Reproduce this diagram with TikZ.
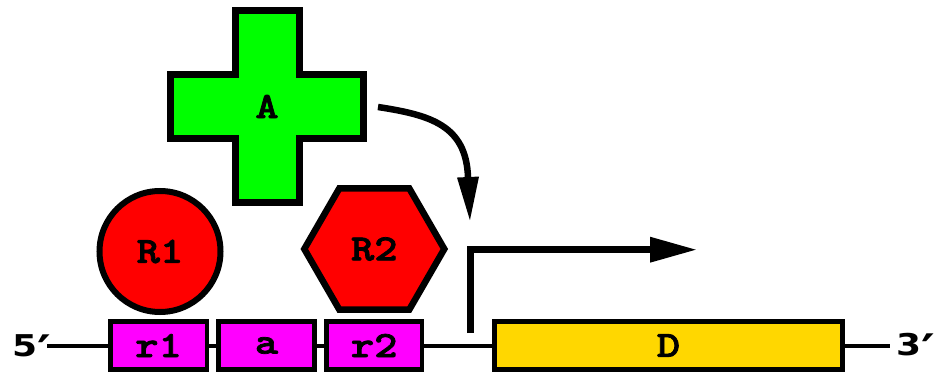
\documentclass[tikz,border=0pt]{standalone}
\usepackage{fontspec}
\usetikzlibrary{arrows.meta}
\newfontfamily\strandfont{DejaVu Sans}[FakeStretch=1.2]
\newfontfamily\partfont{lmmonolt10-bold.otf}[FakeBold=2,FakeStretch=1.2]
\definecolor{partmag}{HTML}{FF00FF}
\definecolor{genegold}{HTML}{FFD700}
\definecolor{actgreen}{HTML}{00FF00}
\definecolor{repred}{HTML}{FF0000}
\newcommand{\strandmark}[1]{#1\rlap{\raisebox{-10pt}{\fontsize{43.5}{43.5}\selectfont ′}}}
\begin{document}
\begin{tikzpicture}[x=1pt,y=-1pt,line join=miter,
  lbl/.style={font=\fontsize{37}{37}\selectfont\partfont,inner sep=0pt},
  strandlbl/.style={font=\fontsize{30}{30}\selectfont\strandfont\bfseries,inner sep=0pt},
  dna/.style={line width=3.5pt},
  part/.style={lbl,draw,line width=4.5pt,minimum height=48pt},
  site/.style={part,fill=partmag},
  gene/.style={part,fill=genegold},
  shapeline/.style={draw,line width=6.5pt},
  arrowline/.style={line width=6.5pt}]
\useasboundingbox (0,0) rectangle (935,374);

% DNA strand
\node[strandlbl,anchor=base west] (five) at (12,356.5) {\strandmark{5}};
\node[strandlbl,anchor=base west] (three) at (896,355.5) {\strandmark{3}};
\coordinate (strandL) at (47,346);
\coordinate (strandR) at (890,346);
\draw[dna] (strandL) -- (strandR);

% operator sites and the gene
\node[site,minimum width=96.3pt] (r1) at (158.6,345.5) {r1};
\node[site,minimum width=96pt] (a) at (266.5,345.5) {a};
\node[site,minimum width=95.5pt] (r2) at (374.2,345.5) {r2};
\node[gene,minimum width=348pt] (D) at (668.5,345.5) {D};

% repressor R1
\node[lbl,circle,draw,line width=6pt,fill=repred,minimum size=121pt] (R1) at (160,251.5) {R1};

% repressor R2
\path[shapeline,fill=repred] (304.3,249) -- (339.3,188.4) -- (409.3,188.4)
  -- (444.3,249) -- (409.3,309.6) -- (339.3,309.6) -- cycle;
\node[lbl] (R2) at (374.3,249) {R2};

% activator A
\path[shapeline,fill=actgreen] (235.3,10.3) -- (299.7,10.3) -- (299.7,74.3)
  -- (363.7,74.3) -- (363.7,138.7) -- (299.7,138.7) -- (299.7,202.7)
  -- (235.3,202.7) -- (235.3,138.7) -- (170.3,138.7) -- (170.3,74.3)
  -- (235.3,74.3) -- cycle;
\node[lbl] (A) at (267,106.5) {A};

% activator acting on the promoter
\coordinate (bind) at (378,107);
\coordinate (bend) at (468,177);
\coordinate (prom) at (470,222);
\draw[arrowline,-{Triangle[length=45pt,width=20pt]}]
  (bind) .. controls (430,115) and (466,125) .. (bend) -- (prom);

% transcription start
\coordinate (tssfoot) at (470.5,333);
\coordinate (tsstip) at (697,249.7);
\draw[arrowline,-{Triangle[length=47pt,width=24pt]}] (tssfoot) |- (tsstip);
\end{tikzpicture}
\end{document}
